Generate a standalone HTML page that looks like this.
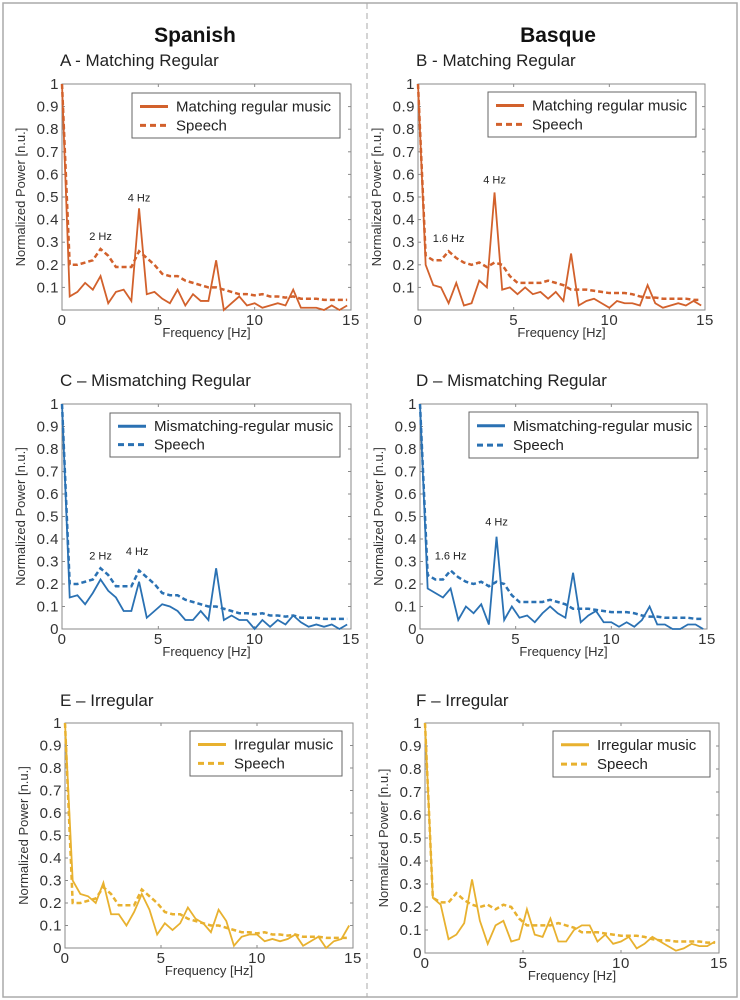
<!DOCTYPE html>
<html><head><meta charset="utf-8"><style>
body{margin:0;background:#fff;}
svg{display:block;font-family:"Liberation Sans",sans-serif;}
</style></head><body>
<svg id="fig" width="740" height="1000" viewBox="0 0 740 1000">
<rect x="3" y="3" width="734" height="994" fill="none" stroke="#aaa" stroke-width="1.5"/>
<line x1="367" y1="3" x2="367" y2="997" stroke="#aaa" stroke-dasharray="6,4"/>
<text x="195" y="42" font-size="21" font-weight="bold" text-anchor="middle" fill="#111">Spanish</text>
<text x="558" y="42" font-size="21" font-weight="bold" text-anchor="middle" fill="#111">Basque</text>
</svg>
<script>
const freqs=[0,0.4,0.8,1.2,1.6,2.0,2.4,2.8,3.2,3.6,4.0,4.4,4.8,5.2,5.6,6.0,6.4,6.8,7.2,7.6,8.0,8.4,8.8,9.2,9.6,10,10.4,10.8,11.2,11.6,12,12.4,12.8,13.2,13.6,14,14.4,14.8];
const speechSpanish=[1,0.2,0.2,0.21,0.22,0.27,0.24,0.19,0.19,0.19,0.26,0.23,0.2,0.16,0.15,0.15,0.13,0.12,0.11,0.1,0.1,0.09,0.08,0.07,0.07,0.065,0.07,0.06,0.06,0.055,0.06,0.05,0.05,0.05,0.045,0.045,0.045,0.045];
const speechBasque=[1,0.24,0.22,0.22,0.26,0.23,0.21,0.2,0.21,0.19,0.21,0.2,0.15,0.12,0.12,0.12,0.12,0.13,0.12,0.11,0.09,0.09,0.09,0.085,0.08,0.075,0.075,0.075,0.07,0.06,0.055,0.055,0.05,0.05,0.05,0.05,0.045,0.045];
const musicA=[1,0.06,0.08,0.12,0.09,0.15,0.03,0.08,0.09,0.04,0.45,0.07,0.08,0.05,0.03,0.09,0.02,0.07,0.04,0.04,0.22,0.0,0.03,0.06,0.02,0.03,0.01,0.02,0.03,0.02,0.09,0.01,0.01,0.01,0.0,0.02,0.0,0.02];
const musicB=[1,0.2,0.11,0.1,0.03,0.12,0.02,0.03,0.13,0.1,0.52,0.09,0.1,0.07,0.1,0.07,0.08,0.05,0.08,0.04,0.25,0.02,0.04,0.05,0.03,0.01,0.04,0.03,0.03,0.02,0.11,0.03,0.01,0.02,0.03,0.02,0.04,0.02];
const musicC=[1,0.14,0.15,0.11,0.16,0.22,0.17,0.14,0.08,0.08,0.21,0.05,0.08,0.11,0.1,0.08,0.04,0.04,0.08,0.04,0.27,0.04,0.06,0.04,0.04,0.0,0.04,0.01,0.04,0.02,0.06,0.03,0.01,0.02,0.01,0.02,0.0,0.02];
const musicD=[1,0.18,0.16,0.14,0.18,0.04,0.1,0.07,0.11,0.02,0.41,0.04,0.1,0.05,0.06,0.03,0.07,0.1,0.07,0.05,0.25,0.03,0.06,0.08,0.03,0.03,0.01,0.03,0.01,0.04,0.1,0.02,0.02,0.0,0.0,0.02,0.02,0.0];
const musicE=[1,0.3,0.24,0.23,0.2,0.29,0.15,0.15,0.1,0.16,0.24,0.17,0.06,0.11,0.08,0.11,0.18,0.13,0.11,0.07,0.17,0.12,0.01,0.05,0.06,0.06,0.03,0.04,0.03,0.04,0.06,0.01,0.03,0.05,0.0,0.03,0.04,0.1];
const musicF=[1,0.24,0.21,0.06,0.08,0.13,0.32,0.14,0.04,0.12,0.14,0.05,0.06,0.19,0.08,0.07,0.15,0.05,0.05,0.1,0.12,0.12,0.05,0.08,0.04,0.05,0.07,0.02,0.04,0.07,0.05,0.03,0.01,0.02,0.04,0.03,0.03,0.05];
const xTicks=[0,5,10,15];
const yTicksNoZero=[0.1,0.2,0.3,0.4,0.5,0.6,0.7,0.8,0.9,1];
const yTicksZero=[0,0.1,0.2,0.3,0.4,0.5,0.6,0.7,0.8,0.9,1];

const NS="http://www.w3.org/2000/svg";
const svg=document.getElementById('fig');
function mk(tag,attrs,parent,txt){const e=document.createElementNS(NS,tag);for(const k in attrs)e.setAttribute(k,attrs[k]);if(txt!==undefined)e.textContent=txt;(parent||svg).appendChild(e);return e;}

const panels=[
 {id:'a',title:'A - Matching Regular',tx:60,ty:66,x0:62,x1:351,y0:310,y1:84,music:musicA,speech:speechSpanish,col:'#d2612c',label:'Matching regular music',lg:[132,93,340,138],yt:yTicksNoZero,ann:[['2 Hz',2,0.31],['4 Hz',4,0.48]]},
 {id:'b',title:'B - Matching Regular',tx:416,ty:66,x0:418,x1:705,y0:310,y1:84,music:musicB,speech:speechBasque,col:'#d2612c',label:'Matching regular music',lg:[488,92,696,137],yt:yTicksNoZero,ann:[['1.6 Hz',1.6,0.3],['4 Hz',4,0.56]]},
 {id:'c',title:'C \u2013 Mismatching Regular',tx:60,ty:386,x0:62,x1:351,y0:629,y1:404,music:musicC,speech:speechSpanish,col:'#2a71b3',label:'Mismatching-regular music',lg:[110,413,340,457],yt:yTicksZero,ann:[['2 Hz',2,0.31],['4 Hz',3.9,0.33]]},
 {id:'d',title:'D \u2013 Mismatching Regular',tx:416,ty:386,x0:420,x1:707,y0:629,y1:404,music:musicD,speech:speechBasque,col:'#2a71b3',label:'Mismatching-regular music',lg:[469,412,698,458],yt:yTicksZero,ann:[['1.6 Hz',1.6,0.31],['4 Hz',4,0.46]]},
 {id:'e',title:'E \u2013 Irregular',tx:60,ty:706,x0:65,x1:353,y0:948,y1:723,music:musicE,speech:speechSpanish,col:'#e8b12f',label:'Irregular music',lg:[190,731,342,776],yt:yTicksZero,ann:[]},
 {id:'f',title:'F \u2013 Irregular',tx:416,ty:706,x0:425,x1:719,y0:953,y1:723,music:musicF,speech:speechBasque,col:'#e8b12f',label:'Irregular music',lg:[553,731,710,777],yt:yTicksZero,ann:[]}
];

panels.forEach(p=>{
 const g=mk('g',{});
 
 
 const X=v=>p.x0+(v/15)*(p.x1-p.x0);
 const Y=v=>p.y0-v*(p.y0-p.y1);
 const t=mk('text',{x:p.tx,y:p.ty,'font-size':17,fill:'#222'},g,p.title);
 
 
 const box=mk('rect',{x:p.x0,y:p.y1,width:p.x1-p.x0,height:p.y0-p.y1,fill:'none',stroke:'#8a8a8a','stroke-width':1},g);
 
 
 xTicks.forEach(v=>{
  mk('line',{x1:X(v),y1:p.y0,x2:X(v),y2:p.y0-3,stroke:'#8a8a8a'},g);
  mk('line',{x1:X(v),y1:p.y1,x2:X(v),y2:p.y1+3,stroke:'#8a8a8a'},g);
  const l=mk('text',{x:X(v),y:p.y0+15,'font-size':15,'text-anchor':'middle',fill:'#333','letter-spacing':'0.5'},g,String(v));
  
  
 });
 p.yt.forEach(v=>{
  mk('line',{x1:p.x0,y1:Y(v),x2:p.x0+3,y2:Y(v),stroke:'#8a8a8a'},g);
  mk('line',{x1:p.x1,y1:Y(v),x2:p.x1-3,y2:Y(v),stroke:'#8a8a8a'},g);
  const l=mk('text',{x:p.x0-3,y:Y(v)+5,'font-size':15,'text-anchor':'end',fill:'#333','letter-spacing':'0.5'},g,String(v));
  
  
 });
 const xl=mk('text',{x:(p.x0+p.x1)/2,y:p.y0+27,'font-size':13,'text-anchor':'middle',fill:'#333'},g,'Frequency [Hz]');
 
 
 const ym=(p.y0+p.y1)/2, yx=p.x0-37;
 const yl=mk('text',{x:yx,y:ym,'font-size':13,'text-anchor':'middle',fill:'#333',transform:'rotate(-90 '+yx+' '+ym+')'},g,'Normalized Power [n.u.]');
 
 
 const sp=mk('polyline',{points:freqs.map((f,i)=>X(f)+','+Y(p.speech[i])).join(' '),fill:'none',stroke:p.col,'stroke-width':2.5,'stroke-dasharray':'5,3'},g);
 
 
 const ms=mk('polyline',{points:freqs.map((f,i)=>X(f)+','+Y(p.music[i])).join(' '),fill:'none',stroke:p.col,'stroke-width':1.8},g);
 
 
 p.ann.forEach(a=>{
  const at=mk('text',{x:X(a[1]),y:Y(a[2]),'font-size':11,'text-anchor':'middle',fill:'#222'},g,a[0]);
  
  
 });
 const [lx0,ly0,lx1,ly1]=p.lg;
 const lg=mk('g',{},g);
 
 
 mk('rect',{x:lx0,y:ly0,width:lx1-lx0,height:ly1-ly0,fill:'#fff',stroke:'#666'},lg);
 const r1=ly0+(ly1-ly0)*0.3, r2=ly0+(ly1-ly0)*0.72;
 mk('line',{x1:lx0+8,y1:r1,x2:lx0+36,y2:r1,stroke:p.col,'stroke-width':3},lg);
 mk('line',{x1:lx0+8,y1:r2,x2:lx0+36,y2:r2,stroke:p.col,'stroke-width':3,'stroke-dasharray':'6,4'},lg);
 const e1=mk('text',{x:lx0+44,y:r1+5,'font-size':15,fill:'#222'},lg,p.label);
 
 
 const e2=mk('text',{x:lx0+44,y:r2+5,'font-size':15,fill:'#222'},lg,'Speech');
 
 
});
</script>
</body></html>
